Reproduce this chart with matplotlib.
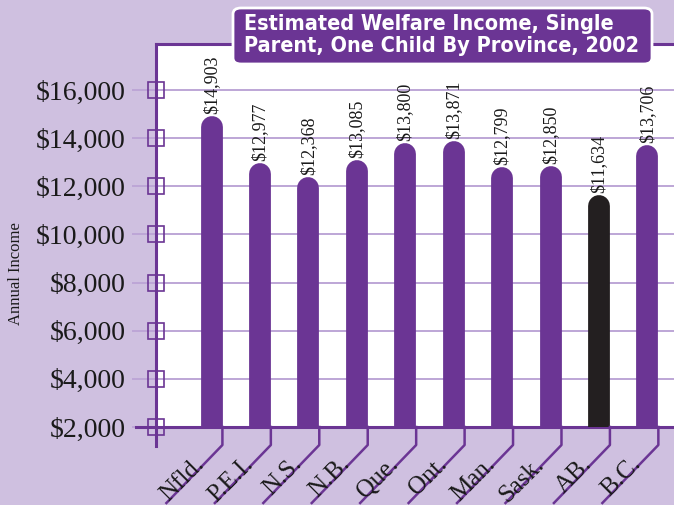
import matplotlib
matplotlib.use("Agg")
import matplotlib.pyplot as plt
from matplotlib.patches import FancyBboxPatch
from matplotlib.lines import Line2D
from matplotlib.transforms import IdentityTransform

provinces = ["Nfld.", "P.E.I.", "N.S.", "N.B.", "Que.", "Ont.", "Man.", "Sask.", "AB.", "B.C."]
income = [14903, 12977, 12368, 13085, 13800, 13871, 12799, 12850, 11634, 13706]
highlight = "AB."
yticks = [2000, 4000, 6000, 8000, 10000, 12000, 14000, 16000]

BG = "#cfc0e0"
PURPLE = "#6b3594"
BLACK = "#231f20"
GRID = "#bda6d6"
SERIF = ["Liberation Serif", "DejaVu Serif"]

fig = plt.figure(figsize=(6.74, 5.05), dpi=100, facecolor=BG)
ax = fig.add_axes([156 / 674, 1 - 427 / 505, 1 - 156 / 674, (427 - 44) / 505])
ax.set_facecolor("white")

x = list(range(len(provinces)))
ax.set_xlim(-1.146, 9.548)
ax.set_ylim(2000, 17910)

# rounded bars: thick lines with a round cap
bar_w = 0.45
px_per_x = ax.transData.transform((1, 0))[0] - ax.transData.transform((0, 0))[0]
px_per_y = ax.transData.transform((0, 1000))[1] - ax.transData.transform((0, 0))[1]
lw_pt = bar_w * px_per_x * 72 / fig.dpi
r_data = bar_w * px_per_x / 2 / px_per_y * 1000
for xi, name, val in zip(x, provinces, income):
    col = BLACK if name == highlight else PURPLE
    ax.plot([xi, xi], [0, val - r_data], color=col, lw=lw_pt,
            solid_capstyle="round", zorder=3)
    ax.text(xi, val + 80, f"${val:,}", rotation=90, ha="center", va="bottom",
            fontsize=13, family=SERIF, color="#1a1a1a", zorder=4)

# grid + y axis
ax.set_yticks(yticks)
ax.set_yticklabels([f"${v:,}" for v in yticks], family=SERIF, fontsize=20, color="#1a1a1a")
ax.yaxis.grid(True, color=GRID, lw=1.4)
ax.set_axisbelow(True)
ax.tick_params(axis="y", length=17, width=1.4, color=GRID, pad=5)
ax.set_xticks([])
ax.plot([ax.get_xlim()[0]] * len(yticks), yticks, "s", ms=11, mfc="none",
        mec=PURPLE, mew=1.2, clip_on=False, zorder=5)

for s in ["left", "top", "bottom"]:
    ax.spines[s].set_color(PURPLE)
    ax.spines[s].set_linewidth(2.2)
ax.spines["right"].set_visible(False)

ax.set_ylabel("Annual Income", family=SERIF, fontsize=12, color="#1a1a1a")
ax.yaxis.set_label_coords(-0.255, 0.40)

# left spine tail, bottom line stub, slanted category ticks and labels
ident = IdentityTransform()
x0, y0 = ax.transData.transform((ax.get_xlim()[0], 2000))
fig.add_artist(Line2D([x0, x0], [y0, y0 - 19], color=PURPLE, lw=2.2, transform=ident))
fig.add_artist(Line2D([x0 - 20, x0], [y0, y0], color=PURPLE, lw=2.2, transform=ident))
for xi, name in zip(x, provinces):
    xr, yb = ax.transData.transform((xi + bar_w / 2, 2000))
    fig.add_artist(Line2D([xr, xr, xr - 56], [yb, yb - 18, yb - 76],
                          color=PURPLE, lw=1.8, transform=ident))
    fig.text(xr - 17, yb - 38, name, rotation=45, rotation_mode="anchor",
             ha="right", va="baseline", fontsize=18, family=SERIF,
             color="#1a1a1a", transform=ident)

# title box
fig.add_artist(FancyBboxPatch((233 / 674, 1 - 64 / 505), 419 / 674, 56 / 505,
                              boxstyle="round,pad=0,rounding_size=0.012",
                              transform=fig.transFigure, facecolor=PURPLE,
                              edgecolor="white", lw=2, zorder=10))
fig.text(442 / 674, 1 - 35 / 505,
         "Estimated Welfare Income, Single\nParent, One Child By Province, 2002",
         ha="center", va="center", multialignment="left", fontsize=15.5,
         fontweight="bold", fontstretch="condensed", family="DejaVu Sans",
         color="white", linespacing=1.1, zorder=11)

fig.savefig("out.png", dpi=100, facecolor=BG)
